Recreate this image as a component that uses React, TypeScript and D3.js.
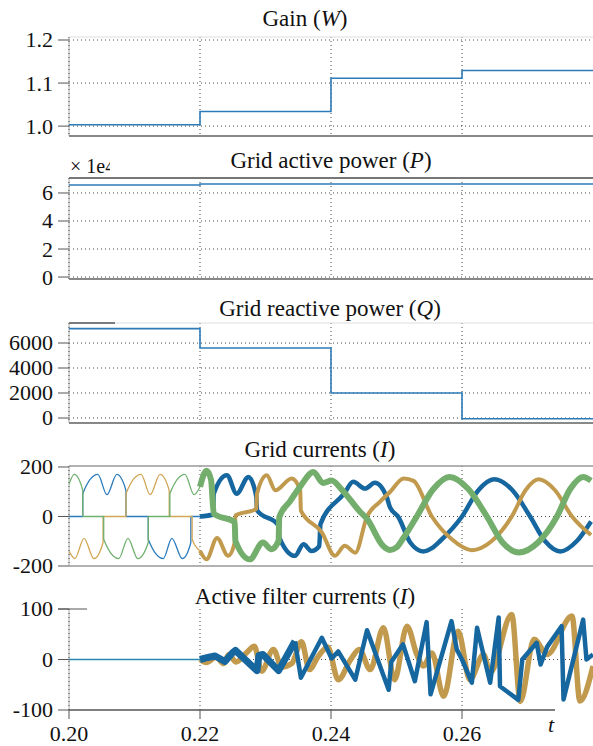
import React from 'react';
import * as d3 from 'd3';

type Pt = [number, number];

// step signals (value held from each time until the next)
const stepTimes = [0.2, 0.22, 0.24, 0.26, 0.28];
const gainValues = [1.003, 1.034, 1.111, 1.129, 1.129];
const activePower = [65700, 66400, 66400, 66400, 66400];
const reactivePower = [7150, 5600, 2000, -60, -60];

// tick labels
const gainTicks = [1.0, 1.1, 1.2];
const activeTicks = [0, 2, 4, 6]; // x 1e4
const reactiveTicks = [0, 2000, 4000, 6000];
const currentTicks = [-200, 0, 200];
const filterTicks = [-100, 0, 100];
const timeTicks = [0.2, 0.22, 0.24, 0.26];

// grid currents [t, I]
const gridBlue: Pt[] = [
  [0.2, 0], [0.2021, 0], [0.2021, 92], [0.2044, 170], [0.2058, 88], [0.2073, 170], [0.2087, 105],
  [0.2087, 0], [0.2121, 0], [0.2121, -92], [0.2144, -170], [0.2157, -88], [0.2173, -170], [0.2186, -105],
  [0.2186, 0], [0.22, 0], [0.222, 8], [0.2221, 92], [0.2241, 167], [0.2256, 92], [0.2274, 160],
  [0.2286, 80], [0.2287, 25], [0.232, -37], [0.2321, -84], [0.2345, -159], [0.2358, -112], [0.237, -139],
  [0.2382, -120], [0.2384, -30], [0.242, 92], [0.2434, 140], [0.2452, 113], [0.2467, 136], [0.2485, 79],
  [0.249, 38], [0.2503, -3], [0.2521, -105], [0.2541, -141], [0.2554, -128], [0.2567, -98], [0.26, 0],
  [0.2625, 106], [0.2649, 150], [0.2677, 106], [0.2704, 0], [0.2727, -100], [0.275, -141], [0.2775, -100],
  [0.2797, -20],
];
const gridOrange: Pt[] = [
  [0.2, -140], [0.2009, -170], [0.2023, -88], [0.2038, -170], [0.2052, -105], [0.2052, 0], [0.2087, 0],
  [0.2087, 92], [0.211, 170], [0.2124, 88], [0.2139, 170], [0.2153, 105], [0.2153, 0], [0.2188, 0],
  [0.2188, -92], [0.22, -139], [0.221, -173], [0.2226, -87], [0.2243, -159], [0.2253, -105], [0.2254, 4],
  [0.2286, 31], [0.2287, 92], [0.2302, 167], [0.2315, 106], [0.234, 154], [0.2353, 106], [0.2354, 24],
  [0.2386, -64], [0.2406, -159], [0.2421, -118], [0.2437, -146], [0.2455, 0], [0.2475, 60], [0.249, 99],
  [0.2511, 154], [0.2526, 144], [0.2554, 0], [0.2584, -91], [0.2615, -136], [0.2645, -100], [0.2676, 0],
  [0.2697, 106], [0.2717, 150], [0.2742, 106], [0.2768, 0], [0.2797, -75],
];
const gridGreen: Pt[] = [
  [0.2, 130], [0.2008, 170], [0.2021, 105], [0.2021, 0], [0.2053, 0], [0.2053, -92], [0.2076, -170],
  [0.209, -88], [0.2105, -170], [0.2121, -105], [0.2121, 0], [0.2154, 0], [0.2154, 92], [0.2177, 170],
  [0.2191, 88], [0.22, 120], [0.221, 185], [0.2217, 147], [0.2221, 11], [0.2253, -23], [0.2254, -98],
  [0.2276, -173], [0.2296, -105], [0.2309, -132], [0.232, -98], [0.2321, -3], [0.2337, 60], [0.2354, 125],
  [0.2373, 180], [0.2388, 135], [0.2401, 145], [0.2416, 110], [0.2444, 20], [0.2455, -10], [0.248, -120],
  [0.249, -135], [0.25, -125], [0.2511, -85], [0.2531, 0], [0.2556, 110], [0.2581, 160], [0.261, 110],
  [0.2638, 0], [0.2662, -105], [0.2687, -145], [0.2716, -105], [0.2745, 0], [0.2765, 110], [0.2785, 160],
  [0.2797, 145],
];

// active filter currents [t, I]
const filterBlue: Pt[] = [
  [0.2, 0], [0.22, 0], [0.2212, 4], [0.2223, 7], [0.2238, -4], [0.225, 14], [0.2254, 18], [0.2287, -22],
  [0.229, 8], [0.2296, 10], [0.232, -22], [0.2345, 36], [0.2354, -36], [0.2386, 43], [0.2401, 2],
  [0.2411, 16], [0.2437, -40], [0.2455, 58], [0.2488, -60], [0.2492, -5], [0.251, 30], [0.2528, -43],
  [0.2546, 74], [0.2552, -69], [0.2584, 76], [0.2592, 20], [0.26, 0], [0.2615, -46], [0.2623, 63],
  [0.2643, -46], [0.2656, 83], [0.2658, -53], [0.2686, -80], [0.2692, 0], [0.2714, 33], [0.272, -10],
  [0.273, 25], [0.2752, 66], [0.2755, -79], [0.2785, 79], [0.279, 0], [0.28, 10],
];
const filterOrange: Pt[] = [
  [0.22, 0], [0.221, -6], [0.2225, 5], [0.2236, -8], [0.2244, 10], [0.2255, -5], [0.227, 12],
  [0.2283, 26], [0.2294, -23], [0.2312, 20], [0.2325, -15], [0.234, -8], [0.2355, 35], [0.2367, -20],
  [0.238, 5], [0.2395, 25], [0.2411, -40], [0.243, 0], [0.2443, 20], [0.246, -20], [0.248, 63],
  [0.2497, -40], [0.2516, 66], [0.2531, 10], [0.2541, -13], [0.2554, 13], [0.2572, -73], [0.2594, 56],
  [0.2612, -40], [0.2633, 10], [0.2643, -26], [0.2676, 89], [0.2689, -83], [0.271, 40], [0.273, 10],
  [0.2768, 86], [0.278, -82], [0.28, -13],
];

const FONT = "'Liberation Serif', 'DejaVu Serif', serif";
const BLUE = '#16679f';
const ORANGE = '#c29a4e';
const GREEN = '#74ae6c';
const STEP = '#2d7bb8';
const GRID = '#3f4a3f';

const x = d3.scaleLinear().domain([0.2, 0.28]).range([69, 593]);
const L = 69;
const R = 593;
const txt = { fontFamily: FONT, fill: '#111' };

type PanelProps = {
  id: string;
  top: number;
  bottom: number;
  domain: [number, number];
  ticks: number[];
  fmt: (v: number) => string;
  grid: number[];
  children: (y: d3.ScaleLinear<number, number>) => React.ReactNode;
};

const Panel = ({ id, top, bottom, domain, ticks, fmt, grid, children }: PanelProps) => {
  const y = d3.scaleLinear().domain(domain).range([bottom, top]);
  return (
    <g>
      <clipPath id={id}>
        <rect x={L} y={top - 4} width={R - L} height={bottom - top + 8} />
      </clipPath>
      {grid.map((g) => (
        <line key={'h' + g} x1={L} x2={R} y1={y(g)} y2={y(g)} stroke={GRID} strokeDasharray="1,3" />
      ))}
      <line x1={L} x2={L} y1={top} y2={bottom} stroke="#aaa" />
      {timeTicks.map((t) => (
        <line key={'v' + t} x1={x(t)} x2={x(t)} y1={top} y2={bottom} stroke={GRID} strokeDasharray="1,3" />
      ))}
      {ticks.map((v) => (
        <g key={'t' + v}>
          <line x1={58} x2={L} y1={y(v)} y2={y(v)} stroke="#555" />
          <text x={53} y={y(v)} dy="0.34em" textAnchor="end" fontSize={22} style={txt}>
            {fmt(v)}
          </text>
        </g>
      ))}
      <g clipPath={`url(#${id})`}>{children(y)}</g>
    </g>
  );
};

const Title = ({ x: tx, y: ty, main, sym }: { x: number; y: number; main: string; sym: string }) => (
  <text x={tx} y={ty} textAnchor="middle" fontSize={23} style={txt}>
    {main}(<tspan fontStyle="italic">{sym}</tspan>)
  </text>
);

const stepPath = (vals: number[], y: d3.ScaleLinear<number, number>) =>
  d3
    .line<number>()
    .x((_, i) => x(stepTimes[i]))
    .y((v) => y(v))
    .curve(d3.curveStepAfter)(vals) || '';

const smooth = (pts: Pt[], y: d3.ScaleLinear<number, number>) =>
  d3
    .line<Pt>()
    .x((d) => x(d[0]))
    .y((d) => y(d[1]))
    .curve(d3.curveMonotoneX)(pts) || '';

const straight = (pts: Pt[], y: d3.ScaleLinear<number, number>) =>
  d3
    .line<Pt>()
    .x((d) => x(d[0]))
    .y((d) => y(d[1]))(pts) || '';

const span = (pts: Pt[], a: number, b: number) => pts.filter((d) => d[0] >= a && d[0] <= b);

export default function App() {
  return (
    <svg width={593} height={746} style={{ position: 'absolute', left: 0, top: 0, background: '#fff' }}>
      {/* Gain */}
      <Title x={305} y={26} main="Gain " sym="W" />
      <Panel id="c1" top={37} bottom={136} domain={[0.977, 1.207]} ticks={gainTicks} fmt={d3.format('.1f')} grid={gainTicks}>
        {(y) => <path d={stepPath(gainValues, y)} fill="none" stroke={STEP} strokeWidth={1.6} />}
      </Panel>
      <line x1={L} x2={R} y1={37} y2={37} stroke="#ddd" />
      <line x1={L} x2={R} y1={136} y2={136} stroke="#888" strokeWidth={1.8} />

      {/* Active power */}
      <Title x={331} y={168} main="Grid active power " sym="P" />
      <clipPath id="sci">
        <rect x={60} y={150} width={50} height={30} />
      </clipPath>
      <text x={70} y={173} fontSize={20} style={txt} clipPath="url(#sci)">
        × 1e4
      </text>
      <Panel id="c2" top={178} bottom={279} domain={[-0.14, 7.07]} ticks={activeTicks} fmt={(v) => String(v)} grid={activeTicks}>
        {(y) => (
          <path d={stepPath(activePower.map((p) => p / 1e4), y)} fill="none" stroke={STEP} strokeWidth={1.6} />
        )}
      </Panel>
      <line x1={L} x2={R} y1={178} y2={178} stroke="#777" strokeWidth={2} />
      <line x1={L} x2={R} y1={279} y2={279} stroke="#888" strokeWidth={1.8} />

      {/* Reactive power */}
      <Title x={330} y={316} main="Grid reactive power " sym="Q" />
      <Panel id="c3" top={323} bottom={423} domain={[-400, 7600]} ticks={reactiveTicks} fmt={(v) => String(v)} grid={reactiveTicks}>
        {(y) => <path d={stepPath(reactivePower, y)} fill="none" stroke={STEP} strokeWidth={1.6} />}
      </Panel>
      <line x1={L} x2={R} y1={323} y2={323} stroke="#ddd" />
      <line x1={L} x2={115} y1={323} y2={323} stroke="#555" strokeWidth={1.5} />
      <line x1={L} x2={R} y1={423} y2={423} stroke="#888" strokeWidth={1.8} />

      {/* Grid currents */}
      <Title x={320} y={457} main="Grid currents " sym="I" />
      <Panel id="c4" top={466} bottom={566} domain={[-200, 204]} ticks={currentTicks} fmt={(v) => String(v)} grid={[0]}>
        {(y) => (
          <g fill="none" strokeLinejoin="round">
            <path d={smooth(span(gridBlue, 0.2, 0.22), y)} stroke="#2b7bbd" strokeWidth={1.3} />
            <path d={smooth(span(gridOrange, 0.2, 0.22), y)} stroke="#d2a654" strokeWidth={1.3} />
            <path d={smooth(span(gridGreen, 0.2, 0.22), y)} stroke="#70b070" strokeWidth={1.3} />
            <path d={smooth(span(gridBlue, 0.22, 0.28), y)} stroke={BLUE} strokeWidth={4.5} />
            <path d={smooth(span(gridOrange, 0.22, 0.28), y)} stroke={ORANGE} strokeWidth={4} />
            <path d={smooth(span(gridGreen, 0.22, 0.28), y)} stroke={GREEN} strokeWidth={6} />
          </g>
        )}
      </Panel>
      <line x1={L} x2={R} y1={466} y2={466} stroke="#999" strokeWidth={1.5} />
      <line x1={L} x2={R} y1={566} y2={566} stroke="#999" strokeWidth={1.5} />

      {/* Active filter currents */}
      <Title x={305} y={604} main="Active filter currents " sym="I" />
      <Panel id="c5" top={609} bottom={710} domain={[-100, 100]} ticks={filterTicks} fmt={(v) => String(v)} grid={[0]}>
        {(y) => (
          <g fill="none" strokeLinejoin="round">
            <path d={smooth(filterOrange, y)} stroke={ORANGE} strokeWidth={5.5} />
            <path d={straight(span(filterBlue, 0.2, 0.22), y)} stroke="#2b86b0" strokeWidth={1.6} />
            <path d={straight(span(filterBlue, 0.22, 0.2345), y)} stroke={BLUE} strokeWidth={7} />
            <path d={straight(span(filterBlue, 0.2345, 0.28), y)} stroke={BLUE} strokeWidth={4.5} />
          </g>
        )}
      </Panel>
      <line x1={58} x2={87} y1={609} y2={609} stroke="#555" />
      <line x1={L} x2={555} y1={710} y2={710} stroke="#555" strokeWidth={1.5} />
      {timeTicks.map((t) => (
        <g key={t}>
          <line x1={x(t)} x2={x(t)} y1={710} y2={719} stroke="#555" />
          <text x={x(t)} y={741} textAnchor="middle" fontSize={22} style={txt}>
            {d3.format('.2f')(t)}
          </text>
        </g>
      ))}
      <text x={551} y={732} textAnchor="middle" fontSize={22} fontStyle="italic" style={txt}>
        t
      </text>
    </svg>
  );
}
